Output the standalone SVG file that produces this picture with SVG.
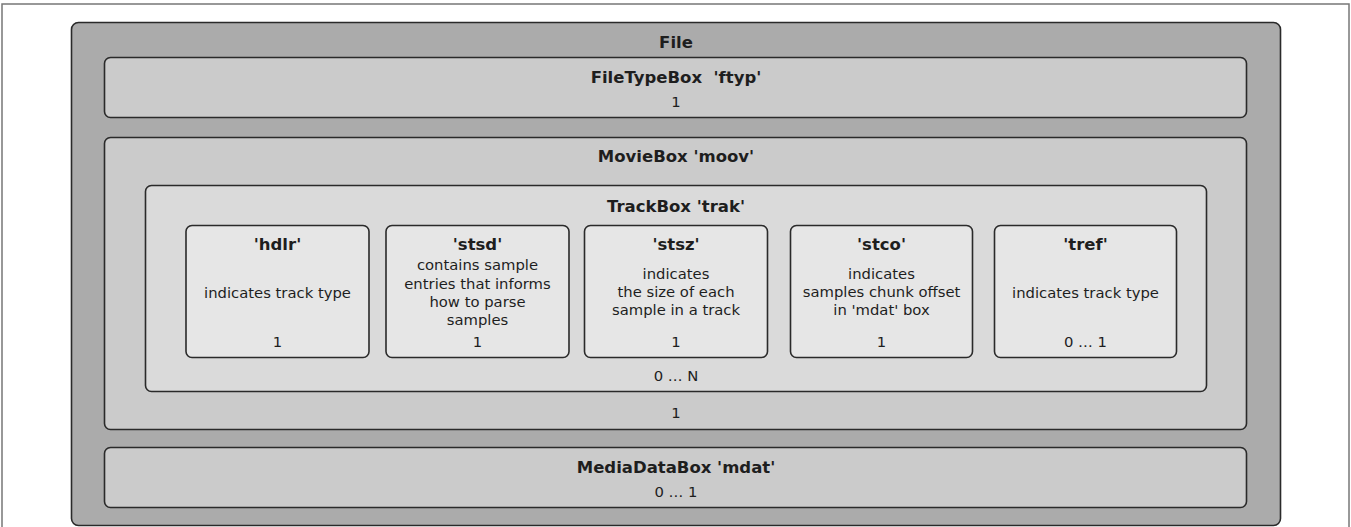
<svg xmlns="http://www.w3.org/2000/svg" width="1351" height="527" viewBox="0 0 1351 527">
  <style>
    .frame { fill: #ffffff; stroke: #777777; stroke-width: 1.5; }
    .box { stroke: #2a2a2a; stroke-width: 1.6; }
    .l0 { fill: #ababab; }
    .l1 { fill: #cbcbcb; }
    .l2 { fill: #dadada; }
    .l3 { fill: #e6e6e6; }
    text { font-family: "DejaVu Sans", "Liberation Sans", sans-serif; fill: #1e1e1e; text-anchor: middle; }
    .title { font-size: 16.5px; font-weight: bold; }
    .body { font-size: 14.8px; }
  </style>

  <!-- page frame -->
  <rect class="frame" x="2" y="4" width="1347" height="540"/>

  <g id="file">
    <rect class="box l0" x="71.5" y="22.5" width="1209" height="503" rx="7"/>
    <text class="title" x="676" y="48">File</text>
  </g>

  <g id="ftyp">
    <rect class="box l1" x="104.5" y="57.5" width="1142" height="60" rx="6"/>
    <text class="title" x="676" y="83" xml:space="preserve">FileTypeBox  'ftyp'</text>
    <text class="body" x="676" y="107">1</text>
  </g>

  <g id="moov">
    <rect class="box l1" x="104.5" y="137.5" width="1142" height="292" rx="6"/>
    <text class="title" x="676" y="162">MovieBox 'moov'</text>
    <text class="body" x="676" y="418">1</text>
  </g>

  <g id="trak">
    <rect class="box l2" x="145.5" y="185.5" width="1061" height="206" rx="6"/>
    <text class="title" x="676" y="212">TrackBox 'trak'</text>
    <text class="body" x="676" y="381">0 … N</text>
  </g>

  <g id="hdlr">
    <rect class="box l3" x="186" y="225.5" width="183" height="132" rx="6"/>
    <text class="title" x="277.5" y="250">'hdlr'</text>
    <text class="body" x="277.5" y="298">indicates track type</text>
    <text class="body" x="277.5" y="347">1</text>
  </g>

  <g id="stsd">
    <rect class="box l3" x="386" y="225.5" width="183" height="132" rx="6"/>
    <text class="title" x="477.5" y="250">'stsd'</text>
    <text class="body" x="477.5" y="270">contains sample</text>
    <text class="body" x="477.5" y="289">entries that informs</text>
    <text class="body" x="477.5" y="307">how to parse</text>
    <text class="body" x="477.5" y="325">samples</text>
    <text class="body" x="477.5" y="347">1</text>
  </g>

  <g id="stsz">
    <rect class="box l3" x="584.5" y="225.5" width="183" height="132" rx="6"/>
    <text class="title" x="676" y="250">'stsz'</text>
    <text class="body" x="676" y="279">indicates</text>
    <text class="body" x="676" y="297">the size of each</text>
    <text class="body" x="676" y="315">sample in a track</text>
    <text class="body" x="676" y="347">1</text>
  </g>

  <g id="stco">
    <rect class="box l3" x="790.5" y="225.5" width="182" height="132" rx="6"/>
    <text class="title" x="881.5" y="250">'stco'</text>
    <text class="body" x="881.5" y="279">indicates</text>
    <text class="body" x="881.5" y="297">samples chunk offset</text>
    <text class="body" x="881.5" y="315">in 'mdat' box</text>
    <text class="body" x="881.5" y="347">1</text>
  </g>

  <g id="tref">
    <rect class="box l3" x="994.5" y="225.5" width="182" height="132" rx="6"/>
    <text class="title" x="1085.5" y="250">'tref'</text>
    <text class="body" x="1085.5" y="298">indicates track type</text>
    <text class="body" x="1085.5" y="347">0 … 1</text>
  </g>

  <g id="mdat">
    <rect class="box l1" x="104.5" y="447.5" width="1142" height="60" rx="6"/>
    <text class="title" x="676" y="473">MediaDataBox 'mdat'</text>
    <text class="body" x="676" y="497">0 … 1</text>
  </g>
</svg>
